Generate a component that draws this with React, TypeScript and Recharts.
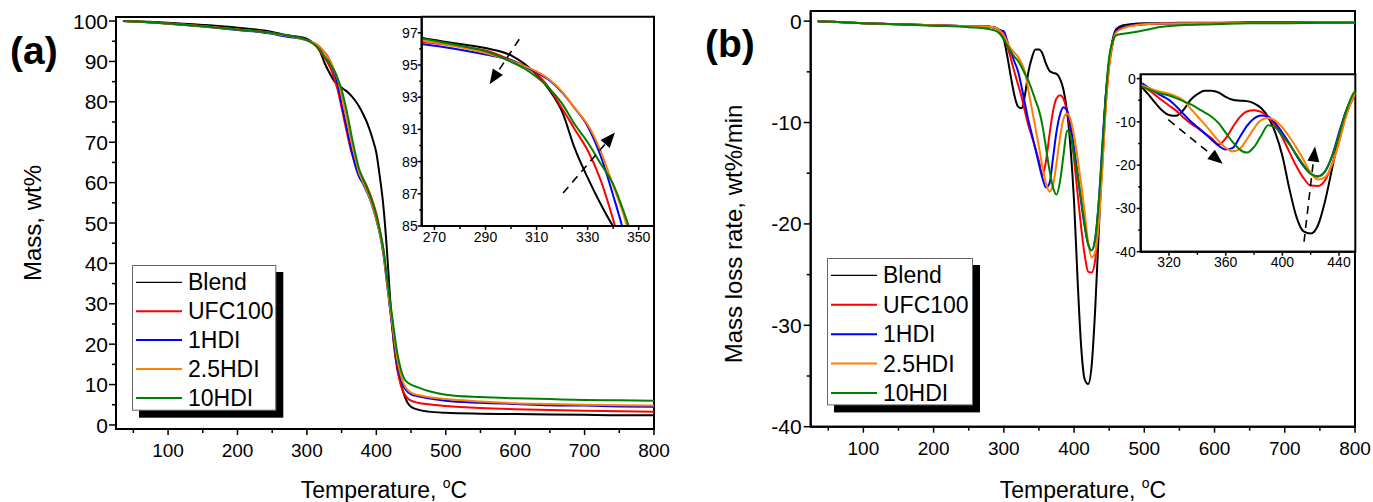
import React from 'react';
import { LineChart, Line, XAxis, YAxis, ReferenceLine, ReferenceArea, CartesianGrid } from 'recharts';

const FONT = '"Liberation Sans", Arial, Helvetica, sans-serif';

const seriesNames = ['Blend', 'UFC100', '1HDI', '2.5HDI', '10HDI'];
const seriesColors = ['#000000', '#ff0000', '#0000ff', '#ff8000', '#008000'];
const legendWidths = [1.2, 2, 2, 2, 2];

// (a) mass vs temperature
const tempA = [35, 50, 100, 150, 200, 250, 265, 270, 280, 290, 300, 305, 310, 315, 320, 325, 330, 335, 340, 345, 350, 355, 360, 365, 370, 375, 380, 385, 390, 395, 400, 405, 410, 415, 420, 425, 430, 435, 440, 445, 450, 460, 475, 500, 550, 600, 650, 700, 750, 800];
const blendA = [100, 99.95, 99.6, 99.05, 98.35, 97.3, 96.7, 96.55, 96.3, 96.05, 95.6, 95.1, 94.4, 93.45, 92.1, 89.8, 88.0, 86.4, 85.0, 84.1, 83.5, 82.9, 82.2, 81.3, 80.2, 78.9, 77.3, 75.5, 73.3, 70.6, 67.4, 61.5, 54.5, 44, 31, 20.5, 14, 10.5, 7.5, 5.5, 4.5, 3.8, 3.3, 3.0, 2.8, 2.7, 2.6, 2.5, 2.4, 2.4];
const ufcA = [100, 99.9, 99.4, 98.75, 97.95, 97.0, 96.45, 96.35, 96.15, 95.9, 95.3, 94.95, 94.45, 93.55, 92.3, 91.0, 89.7, 87.9, 85.4, 82.5, 78.5, 74.5, 70.5, 67, 64.5, 62.8, 61.3, 59.6, 57.6, 55.2, 52.3, 48.3, 43.5, 36.5, 28.5, 21, 14.5, 10, 7.8, 6.6, 6.0, 5.5, 5.1, 4.7, 4.2, 3.9, 3.7, 3.5, 3.4, 3.3];
const hdi1A = [100, 99.9, 99.35, 98.65, 97.8, 96.85, 96.3, 96.2, 95.95, 95.65, 95.3, 94.95, 94.55, 94.05, 93.3, 92.3, 91.2, 89.4, 86.9, 84.0, 79.5, 75.5, 71.5, 67.5, 64, 61.5, 60, 58.2, 56.3, 53.8, 50.8, 47.3, 42.5, 35.5, 28.5, 21.5, 15.5, 11.5, 9.3, 8.2, 7.6, 7.1, 6.6, 6.0, 5.5, 5.2, 4.9, 4.8, 4.6, 4.5];
const hdi25A = [100, 99.9, 99.4, 98.7, 97.9, 97.0, 96.5, 96.4, 96.1, 95.75, 95.25, 94.95, 94.6, 94.1, 93.35, 92.3, 91.3, 89.7, 87.5, 85.2, 81.5, 77.5, 73.5, 69.5, 66, 62.5, 60.5, 58.5, 56.5, 54, 51, 47.5, 43, 36, 29, 22.5, 16.5, 12.5, 10, 8.7, 8.0, 7.4, 6.9, 6.4, 5.8, 5.4, 5.2, 5.0, 4.9, 4.8];
const hdi10A = [100, 99.9, 99.4, 98.7, 97.9, 97.05, 96.65, 96.5, 96.2, 95.85, 95.2, 94.8, 94.25, 93.55, 92.6, 91.3, 90.2, 88.9, 87.6, 85.5, 83, 79.5, 75.5, 71, 67, 63.5, 61.3, 59.3, 57.2, 54.8, 51.8, 48.2, 43.8, 37, 30.5, 24, 18, 14, 11.5, 10.5, 10.0, 9.3, 8.4, 7.5, 6.9, 6.6, 6.4, 6.2, 6.1, 6.0];

// (b) mass loss rate vs temperature
const tempB = [35, 50, 100, 150, 200, 250, 280, 290, 295, 300, 305, 310, 315, 320, 325, 330, 335, 340, 345, 350, 355, 360, 365, 370, 375, 380, 385, 390, 395, 400, 405, 410, 415, 420, 425, 430, 435, 440, 445, 450, 455, 460, 470, 480, 500, 520, 550, 600, 650, 700, 750, 800];
const blendB = [0, -0.05, -0.2, -0.3, -0.4, -0.5, -0.55, -0.7, -1.1, -1.8, -3.5, -5.5, -7.3, -8.4, -8.6, -7.3, -5.0, -3.6, -2.8, -2.8, -3.2, -4.2, -4.9, -5.1, -5.2, -5.7, -6.8, -8.9, -12.5, -17.8, -25.5, -32, -35.3, -35.8, -34, -28.5, -21, -13.5, -7.5, -4, -1.8, -0.8, -0.4, -0.3, -0.2, -0.2, -0.15, -0.15, -0.1, -0.1, -0.1, -0.1];
const ufcB = [0, -0.05, -0.2, -0.3, -0.4, -0.5, -0.55, -0.7, -1.0, -1.4, -2.5, -3.7, -5.0, -6.2, -7.4, -8.9, -10.3, -11.4, -12.6, -13.8, -15.2, -13.8, -11.2, -8.9, -7.6, -7.3, -7.7, -8.9, -10.8, -13.6, -17, -20.3, -23, -24.7, -24.8, -23.6, -19.8, -14.5, -8.5, -4.5, -2.2, -1.0, -0.6, -0.45, -0.3, -0.25, -0.2, -0.2, -0.15, -0.15, -0.1, -0.1];
const hdi1B = [0, -0.05, -0.2, -0.3, -0.4, -0.5, -0.55, -0.7, -0.9, -1.0, -2.0, -3.0, -4.0, -4.9, -6.4, -8.1, -9.8, -11.2, -12.6, -14.1, -15.5, -16.4, -16.0, -13.5, -10.9, -9.2, -8.5, -8.8, -10.3, -12.5, -15, -17.8, -20.2, -22, -22.6, -21.5, -18, -12.5, -7.5, -4, -2.0, -1.0, -0.6, -0.45, -0.3, -0.25, -0.2, -0.2, -0.15, -0.15, -0.1, -0.1];
const hdi25B = [0, -0.05, -0.2, -0.3, -0.4, -0.5, -0.55, -0.7, -1.0, -1.4, -2.1, -2.7, -3.1, -3.5, -4.1, -5.0, -6.8, -8.7, -10.5, -12.4, -14.4, -16.0, -16.8, -16.2, -14.0, -11.5, -9.6, -9.1, -9.7, -11.3, -13.5, -16, -18.8, -21.8, -23.3, -22.8, -20, -14.8, -8.5, -4.3, -2.1, -1.1, -0.7, -0.5, -0.3, -0.25, -0.2, -0.2, -0.15, -0.15, -0.1, -0.1];
const hdi10B = [0, -0.05, -0.2, -0.3, -0.45, -0.6, -0.8, -1.0, -1.3, -1.8, -2.4, -3.0, -3.5, -3.9, -4.5, -5.2, -5.9, -6.8, -7.8, -8.8, -10.3, -12.5, -14.7, -16.4, -17.1, -15.8, -13.2, -10.8, -11.3, -13.2, -15.2, -17.6, -20, -22, -22.6, -21.5, -18, -13, -7.5, -3.5, -2.0, -1.4, -1.25, -1.15, -0.9, -0.6, -0.4, -0.3, -0.2, -0.2, -0.15, -0.15];

// axis ticks
const mainXTicks = [50, 100, 150, 200, 250, 300, 350, 400, 450, 500, 550, 600, 650, 700, 750, 800];
const mainXLabels = [100, 200, 300, 400, 500, 600, 700, 800];
const massTicks = [0, 5, 10, 15, 20, 25, 30, 35, 40, 45, 50, 55, 60, 65, 70, 75, 80, 85, 90, 95, 100];
const massLabels = [0, 10, 20, 30, 40, 50, 60, 70, 80, 90, 100];
const rateTicks = [-40, -35, -30, -25, -20, -15, -10, -5, 0];
const rateLabels = [-40, -30, -20, -10, 0];
const insetAXTicks = [270, 280, 290, 300, 310, 320, 330, 340, 350];
const insetAXLabels = [270, 290, 310, 330, 350];
const insetAYTicks = [85, 86, 87, 88, 89, 90, 91, 92, 93, 94, 95, 96, 97];
const insetAYLabels = [85, 87, 89, 91, 93, 95, 97];
const insetBXTicks = [320, 340, 360, 380, 400, 420, 440];
const insetBXLabels = [320, 360, 400, 440];

// dashed arrows drawn in the insets (data coordinates)
const arrowsA = [
  [{ x: 303.2, y: 96.6 }, { x: 291.6, y: 93.8 }],
  [{ x: 320.4, y: 87.05 }, { x: 340.7, y: 90.8 }],
];
const arrowsB = [
  [{ x: 319.5, y: -9.5 }, { x: 357.9, y: -19.7 }],
  [{ x: 415.3, y: -37.7 }, { x: 423.1, y: -15.7 }],
];

const rowsA = tempA.map((t, i) => ({ t, s0: blendA[i], s1: ufcA[i], s2: hdi1A[i], s3: hdi25A[i], s4: hdi10A[i] }));
const rowsB = tempB.map((t, i) => ({ t, s0: blendB[i], s1: ufcB[i], s2: hdi1B[i], s3: hdi25B[i], s4: hdi10B[i] }));

const xTick = (labels: number[], fs: number, major: number, minor: number, dy: number) => (p: any) => {
  const v = p.payload.value;
  const isMajor = labels.includes(v);
  return (
    <g>
      <line x1={p.x} x2={p.x} y1={p.y} y2={p.y + (isMajor ? major : minor)} stroke="#000" strokeWidth={1.5} />
      {isMajor && (
        <text x={p.x} y={p.y + dy} textAnchor="middle" fontSize={fs} fontFamily={FONT} fill="#000">
          {v}
        </text>
      )}
    </g>
  );
};

const yTick = (labels: number[], fs: number, major: number, minor: number, gap: number) => (p: any) => {
  const v = p.payload.value;
  const isMajor = labels.includes(v);
  return (
    <g>
      <line x1={p.x} x2={p.x - (isMajor ? major : minor)} y1={p.y} y2={p.y} stroke="#000" strokeWidth={1.5} />
      {isMajor && (
        <text x={p.x - gap} y={p.y} dy="0.36em" textAnchor="end" fontSize={fs} fontFamily={FONT} fill="#000">
          {v}
        </text>
      )}
    </g>
  );
};

const Arrow = (p: any) => {
  const { x1, y1, x2, y2 } = p;
  const dx = x2 - x1;
  const dy = y2 - y1;
  const len = Math.hypot(dx, dy);
  const ux = dx / len;
  const uy = dy / len;
  const hl = 15;
  const hw = 6;
  const bx = x2 - ux * hl;
  const by = y2 - uy * hl;
  return (
    <g>
      <line x1={x1} y1={y1} x2={bx} y2={by} stroke="#000" strokeWidth={1.6} strokeDasharray="8 6" />
      <polygon points={`${x2},${y2} ${bx - uy * hw},${by + ux * hw} ${bx + uy * hw},${by - ux * hw}`} fill="#000" />
    </g>
  );
};

const axisLine = { stroke: '#000', strokeWidth: 2 };

const seriesLines = (w: number) =>
  seriesNames.map((name, k) => (
    <Line
      key={name}
      type="monotone"
      dataKey={'s' + k}
      name={name}
      stroke={seriesColors[k]}
      strokeWidth={w}
      dot={false}
      activeDot={false}
      isAnimationActive={false}
    />
  ));

const Legend = ({ left, top, w, h, step, first }: { left: number; top: number; w: number; h: number; step: number; first: number }) => (
  <svg width={w + 8} height={h + 8} style={{ position: 'absolute', left, top }}>
    <rect x={7} y={7} width={w} height={h} fill="#000" />
    <rect x={0.5} y={0.5} width={w - 1} height={h - 1} fill="#fff" stroke="#666" strokeWidth={1} />
    {seriesNames.map((name, k) => {
      const cy = first + k * step;
      return (
        <g key={name}>
          <line x1={4} x2={50} y1={cy} y2={cy} stroke={seriesColors[k]} strokeWidth={legendWidths[k]} />
          <text x={56} y={cy + 8} fontSize={23} fontFamily={FONT} fill="#000">
            {name}
          </text>
        </g>
      );
    })}
  </svg>
);

export default function App() {
  return (
    <div style={{ position: 'absolute', left: 0, top: 0, width: 1373, height: 502, background: '#fff', overflow: 'hidden' }}>
      <svg width={1373} height={502} style={{ position: 'absolute', left: 0, top: 0 }}>
        <text x={10} y={64} fontSize={39} fontWeight="bold" fontFamily={FONT}>(a)</text>
        <text x={705} y={57} fontSize={39} fontWeight="bold" fontFamily={FONT}>(b)</text>
        <text x={384} y={498} textAnchor="middle" fontSize={23} fontFamily={FONT}>
          Temperature, <tspan fontSize={14} dy={-10}>o</tspan>
          <tspan dy={10}>C</tspan>
        </text>
        <text x={1083} y={498} textAnchor="middle" fontSize={23} fontFamily={FONT}>
          Temperature, <tspan fontSize={14} dy={-10}>o</tspan>
          <tspan dy={10}>C</tspan>
        </text>
        <text transform="translate(41,223) rotate(-90)" textAnchor="middle" fontSize={24} fontFamily={FONT}>
          Mass, wt%
        </text>
        <text transform="translate(742,234) rotate(-90)" textAnchor="middle" fontSize={24} fontFamily={FONT}>
          Mass loss rate, wt%/min
        </text>
      </svg>

      {/* (a) main */}
      <div style={{ position: 'absolute', left: 0, top: 0 }}>
        <LineChart width={680} height={502} data={rowsA} margin={{ top: 17, right: 26, left: 0, bottom: 0 }}>
          <XAxis dataKey="t" type="number" domain={[25, 800]} ticks={mainXTicks} interval={0} height={73}
            tickSize={0} tickMargin={0} tickLine={false} axisLine={axisLine} tick={xTick(mainXLabels, 19, 6, 4, 28)} />
          <YAxis type="number" domain={[-1, 101]} ticks={massTicks} interval={0} width={116}
            tickSize={0} tickMargin={0} tickLine={false} axisLine={axisLine} tick={yTick(massLabels, 21, 7, 4, 8)} />
          <ReferenceArea x1={25} x2={800} y1={-1} y2={101} fill="none" stroke="#000" strokeWidth={2} ifOverflow="visible" />
          {seriesLines(2)}
        </LineChart>
      </div>

      {/* (a) inset */}
      <div style={{ position: 'absolute', left: 380, top: 0 }}>
        <LineChart width={290} height={260} data={rowsA} margin={{ top: 16.7, right: 16, left: 0, bottom: 0 }}>
          <CartesianGrid horizontal={false} vertical={false} fill="#fff" />
          <XAxis dataKey="t" type="number" domain={[265, 356]} allowDataOverflow ticks={insetAXTicks} interval={0} height={34}
            tickSize={0} tickMargin={0} tickLine={false} axisLine={axisLine} tick={xTick(insetAXLabels, 14, 4, 3, 16)} />
          <YAxis type="number" domain={[85, 98]} allowDataOverflow ticks={insetAYTicks} interval={0} width={41.7}
            tickSize={0} tickMargin={0} tickLine={false} axisLine={axisLine} tick={yTick(insetAYLabels, 14, 4, 2.5, 4)} />
          <ReferenceArea x1={265} x2={356} y1={85} y2={98} fill="none" stroke="#000" strokeWidth={2} ifOverflow="visible" />
          {seriesLines(2)}
          {arrowsA.map((seg, i) => (
            <ReferenceLine key={i} segment={seg} ifOverflow="visible" shape={Arrow} />
          ))}
        </LineChart>
      </div>

      {/* (b) main */}
      <div style={{ position: 'absolute', left: 700, top: 0 }}>
        <LineChart width={673} height={502} data={rowsB} margin={{ top: 11, right: 18, left: 0, bottom: 0 }}>
          <XAxis dataKey="t" type="number" domain={[25, 800]} ticks={mainXTicks} interval={0} height={75.3}
            tickSize={0} tickMargin={0} tickLine={false} axisLine={axisLine} tick={xTick(mainXLabels, 19, 6, 4, 28)} />
          <YAxis type="number" domain={[-40, 1]} ticks={rateTicks} interval={0} width={110.7}
            tickSize={0} tickMargin={0} tickLine={false} axisLine={axisLine} tick={yTick(rateLabels, 21, 7, 4, 9)} />
          <ReferenceArea x1={25} x2={800} y1={-40} y2={1} fill="none" stroke="#000" strokeWidth={2} ifOverflow="visible" />
          {seriesLines(2)}
        </LineChart>
      </div>

      {/* (b) inset */}
      <div style={{ position: 'absolute', left: 1090, top: 55 }}>
        <LineChart width={283} height={225} data={rowsB} margin={{ top: 19.3, right: 17.7, left: 0, bottom: 0 }}>
          <CartesianGrid horizontal={false} vertical={false} fill="#fff" />
          <XAxis dataKey="t" type="number" domain={[300, 451.5]} allowDataOverflow ticks={insetBXTicks} interval={0} height={28.3}
            tickSize={0} tickMargin={0} tickLine={false} axisLine={axisLine} tick={xTick(insetBXLabels, 14, 4, 3, 15)} />
          <YAxis type="number" domain={[-40, 1]} allowDataOverflow ticks={rateTicks} interval={0} width={50.7}
            tickSize={0} tickMargin={0} tickLine={false} axisLine={axisLine} tick={yTick(rateLabels, 14, 4, 2.5, 5)} />
          <ReferenceArea x1={300} x2={451.5} y1={-40} y2={1} fill="none" stroke="#000" strokeWidth={2} ifOverflow="visible" />
          {seriesLines(2)}
          {arrowsB.map((seg, i) => (
            <ReferenceLine key={i} segment={seg} ifOverflow="visible" shape={Arrow} />
          ))}
        </LineChart>
      </div>

      <Legend left={131.7} top={265} w={144.3} h={145.7} step={28.9} first={17.3} />
      <Legend left={826.7} top={258.3} w={146} h={147.4} step={29.4} first={17.4} />
    </div>
  );
}
